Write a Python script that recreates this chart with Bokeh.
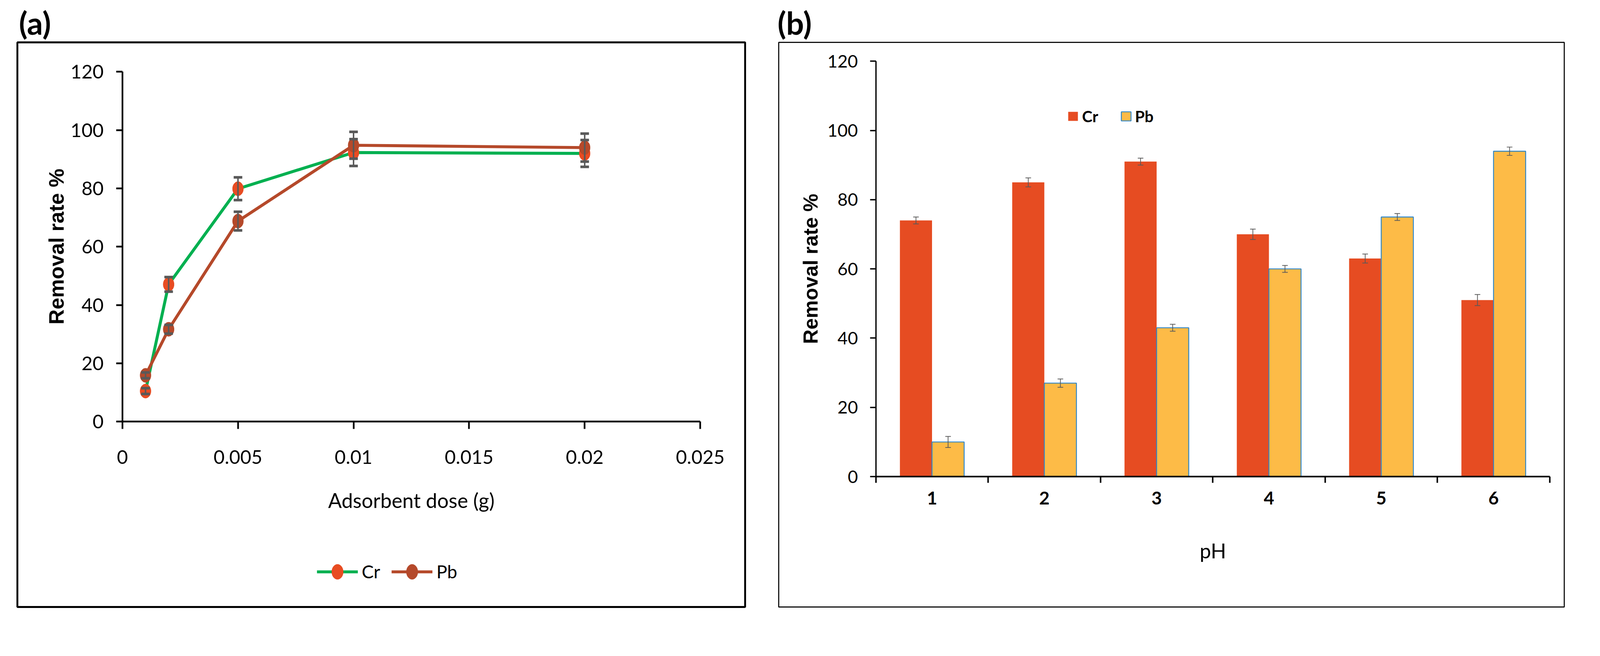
from bokeh.plotting import figure
from bokeh.layouts import row
from bokeh.models import (ColumnDataSource, Whisker, TeeHead, FixedTicker, CustomJSTickFormatter,
                          Legend, LegendItem, LinearAxis, Range1d)
from bokeh.embed import file_html
from bokeh.resources import INLINE

CAL = "Lato, Open Sans, sans-serif"
ARIAL = "Liberation Sans, Arial, sans-serif"

# (a) removal rate vs adsorbent dose
dose = [0.001, 0.002, 0.005, 0.01, 0.02]
cr_dose = [10.5, 47.1, 79.9, 92.3, 92.0]
cr_dose_err = [1.0, 2.5, 3.9, 4.6, 4.6]
pb_dose = [15.9, 31.7, 68.8, 94.8, 94.0]
pb_dose_err = [1.0, 1.5, 3.2, 4.6, 4.8]
dose_ticks = [0, 0.005, 0.01, 0.015, 0.02, 0.025]

# (b) removal rate vs pH
ph = [1, 2, 3, 4, 5, 6]
cr_ph = [74, 85, 91, 70, 63, 51]
cr_ph_err = [1.0, 1.3, 1.0, 1.5, 1.3, 1.6]
pb_ph = [10, 27, 43, 60, 75, 94]
pb_ph_err = [1.6, 1.2, 1.0, 1.0, 1.0, 1.2]
rate_ticks = [0, 20, 40, 60, 80, 100, 120]

GREEN = "#00B050"
BROWN = "#B5492A"
RED = "#E84C22"
ORANGE = "#FDBB47"
BLUE = "#2E86C8"
ERR = "#595959"

# the page ends up drawn at 4096 px wide, so sizes measured on the 4281 px picture are scaled
K = 4096 / 4281


def s(v):
    return v * K


def fs(v):
    return f"{v * K:.1f}px"


def style_axis(ax, size, tick_out, width, standoff, bold=False):
    ax.axis_line_width = s(width)
    ax.major_tick_line_width = s(width)
    ax.major_tick_out = round(s(tick_out))
    ax.major_tick_in = 0
    ax.minor_tick_line_color = None
    ax.major_label_text_font = CAL
    ax.major_label_text_font_size = fs(size)
    ax.major_label_text_font_style = "bold" if bold else "normal"
    ax.major_label_text_color = "black"
    ax.major_label_standoff = round(s(standoff))
    ax.axis_label_text_color = "black"


# ---------------- panel (a) ----------------
pa = figure(width=1950, height=1590, output_backend="svg", toolbar_location=None,
            x_range=Range1d(-0.004544, 0.026941), y_range=Range1d(-63.55, 130.09),
            min_border_left=44, min_border_right=43, min_border_top=107, min_border_bottom=33,
            title="(a)")
pa.title.text_font = CAL
pa.title.text_font_size = fs(84)
pa.title.text_font_style = "bold"
pa.title.text_color = "black"
pa.title.offset = 4
pa.title.standoff = 6
pa.grid.visible = False
pa.outline_line_color = "black"
pa.outline_line_width = s(5)

pa.xaxis.fixed_location = 0
pa.xaxis.bounds = (0, 0.025)
pa.xaxis.ticker = FixedTicker(ticks=dose_ticks)
pa.xaxis.formatter = CustomJSTickFormatter(code="return String(tick)")
style_axis(pa.xaxis[0], 51, 20, 4.5, 56)
pa.xaxis.axis_label = "Adsorbent dose (g)"
pa.xaxis.axis_label_text_font = CAL
pa.xaxis.axis_label_text_font_size = fs(54)
pa.xaxis.axis_label_text_font_style = "normal"
pa.xaxis.axis_label_standoff = round(s(62))

pa.yaxis.fixed_location = 0
pa.yaxis.bounds = (0, 120)
pa.yaxis.ticker = FixedTicker(ticks=rate_ticks)
style_axis(pa.yaxis[0], 51, 17, 4.5, 33)
pa.yaxis.axis_label = "Removal rate %"
pa.yaxis.axis_label_text_font = ARIAL
pa.yaxis.axis_label_text_font_size = fs(56)
pa.yaxis.axis_label_text_font_style = "bold"
pa.yaxis.axis_label_standoff = round(s(4))

src_a = ColumnDataSource(data=dict(
    x=dose, cr=cr_dose, pb=pb_dose,
    cr_up=[v + e for v, e in zip(cr_dose, cr_dose_err)],
    cr_lo=[v - e for v, e in zip(cr_dose, cr_dose_err)],
    pb_up=[v + e for v, e in zip(pb_dose, pb_dose_err)],
    pb_lo=[v - e for v, e in zip(pb_dose, pb_dose_err)],
))

cr_line = pa.line("x", "cr", source=src_a, line_color=GREEN, line_width=s(8))
cr_dot = pa.ellipse("x", "cr", source=src_a, width=s(29), height=s(38), width_units="screen",
                    height_units="screen", fill_color=RED, line_color=RED)
pb_line = pa.line("x", "pb", source=src_a, line_color=BROWN, line_width=s(8))
pb_dot = pa.ellipse("x", "pb", source=src_a, width=s(29), height=s(38), width_units="screen",
                    height_units="screen", fill_color=BROWN, line_color=BROWN)

for up, lo in (("cr_up", "cr_lo"), ("pb_up", "pb_lo")):
    pa.add_layout(Whisker(source=src_a, base="x", upper=up, lower=lo, level="annotation",
                          line_color=ERR, line_width=s(4),
                          upper_head=TeeHead(size=s(23), line_width=s(7), line_color=ERR),
                          lower_head=TeeHead(size=s(23), line_width=s(7), line_color=ERR)))

leg_a = Legend(items=[LegendItem(label="Cr", renderers=[cr_line, cr_dot]),
                      LegendItem(label="Pb", renderers=[pb_line, pb_dot])],
               location=(round(s(802)), round(s(66))), orientation="horizontal",
               glyph_width=round(s(110)), glyph_height=round(s(50)), label_height=round(s(50)),
               label_standoff=round(s(10)), spacing=round(s(30)),
               padding=0, margin=0, border_line_color=None, background_fill_alpha=0,
               label_text_font=CAL, label_text_font_size=fs(48), label_text_color="black")
pa.add_layout(leg_a)

# ---------------- panel (b) ----------------
pb = figure(width=2120, height=1590, output_backend="svg", toolbar_location=None,
            x_range=Range1d(-0.3652, 6.6298), y_range=Range1d(-37.68, 125.45),
            min_border_left=43, min_border_right=66, min_border_top=108, min_border_bottom=36,
            title="(b)")
pb.title.text_font = CAL
pb.title.text_font_size = fs(84)
pb.title.text_font_style = "bold"
pb.title.text_color = "black"
pb.title.offset = -3
pb.title.standoff = 6
pb.grid.visible = False
pb.outline_line_color = "#111111"
pb.outline_line_width = s(3)

pb.xaxis.fixed_location = 0
pb.xaxis.bounds = (0.5, 6.5)
pb.xaxis.ticker = FixedTicker(ticks=ph)
style_axis(pb.xaxis[0], 48, 0, 4, 40, bold=True)
pb.xaxis.major_tick_line_color = None
pb.xaxis.axis_label = "pH"
pb.xaxis.axis_label_text_font = CAL
pb.xaxis.axis_label_text_font_size = fs(54)
pb.xaxis.axis_label_text_font_style = "normal"
pb.xaxis.axis_label_standoff = round(s(88))

edges = FixedTicker(ticks=[v - 0.5 for v in ph] + [ph[-1] + 0.5])
edge_axis = LinearAxis(fixed_location=0, bounds=(0.5, 6.5), ticker=edges,
                       formatter=CustomJSTickFormatter(code="return ''"),
                       axis_line_color=None, major_tick_out=round(s(17)), major_tick_in=0,
                       major_tick_line_width=s(4), minor_tick_line_color=None)
pb.add_layout(edge_axis, "below")

pb.yaxis.fixed_location = 0.5
pb.yaxis.bounds = (0, 120)
pb.yaxis.ticker = FixedTicker(ticks=rate_ticks)
style_axis(pb.yaxis[0], 47, 16, 3.5, 32)
pb.yaxis.axis_label = "Removal rate %"
pb.yaxis.axis_label_text_font = ARIAL
pb.yaxis.axis_label_text_font_size = fs(54)
pb.yaxis.axis_label_text_font_style = "bold"
pb.yaxis.axis_label_standoff = round(s(12))

bar_w = 0.286
src_b = ColumnDataSource(data=dict(
    cr_x=[v - bar_w / 2 for v in ph], pb_x=[v + bar_w / 2 for v in ph],
    cr=cr_ph, pb=pb_ph,
    cr_up=[v + e for v, e in zip(cr_ph, cr_ph_err)],
    cr_lo=[v - e for v, e in zip(cr_ph, cr_ph_err)],
    pb_up=[v + e for v, e in zip(pb_ph, pb_ph_err)],
    pb_lo=[v - e for v, e in zip(pb_ph, pb_ph_err)],
))

cr_bars = pb.vbar(x="cr_x", top="cr", bottom=0, width=bar_w, source=src_b,
                  fill_color="#E64C22", line_color=None)
pb_bars = pb.vbar(x="pb_x", top="pb", bottom=0, width=bar_w, source=src_b,
                  fill_color=ORANGE, line_color=BLUE, line_width=s(2.5))

for base, up, lo in (("cr_x", "cr_up", "cr_lo"), ("pb_x", "pb_up", "pb_lo")):
    pb.add_layout(Whisker(source=src_b, base=base, upper=up, lower=lo, level="annotation",
                          line_color=ERR, line_width=s(2),
                          upper_head=TeeHead(size=s(15), line_width=s(2), line_color=ERR),
                          lower_head=TeeHead(size=s(15), line_width=s(2), line_color=ERR)))

leg_b = Legend(items=[LegendItem(label="Cr", renderers=[cr_bars]),
                      LegendItem(label="Pb", renderers=[pb_bars])],
               location=(round(s(771)), round(s(1288))), orientation="horizontal",
               glyph_width=round(s(32)), glyph_height=round(s(30)), label_height=round(s(30)),
               label_standoff=round(s(8)), spacing=round(s(58)),
               padding=0, margin=0, border_line_color=None, background_fill_alpha=0,
               label_text_font=CAL, label_text_font_size=fs(42),
               label_text_font_style="bold", label_text_color="black")
pb.add_layout(leg_b)

layout = row(pa, pb, spacing=0)
open("out.html", "w").write(file_html(layout, INLINE))
